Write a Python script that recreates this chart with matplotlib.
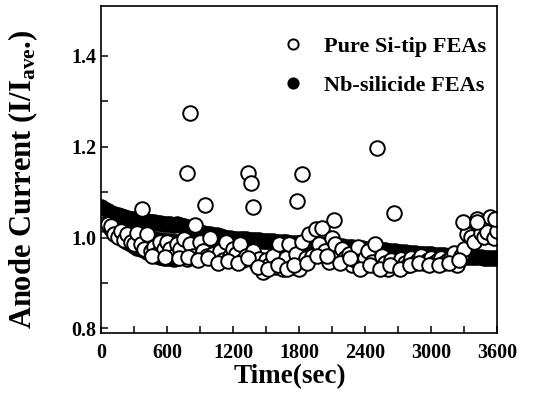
import numpy as np
import matplotlib
matplotlib.use('Agg')
import matplotlib.pyplot as plt

plt.rcParams['font.family'] = ['Liberation Serif', 'DejaVu Serif']
plt.rcParams['font.weight'] = 'bold'
plt.rcParams['mathtext.fontset'] = 'custom'
plt.rcParams['mathtext.rm'] = 'Liberation Serif:bold'
plt.rcParams['mathtext.it'] = 'Liberation Serif:bold'
plt.rcParams['mathtext.bf'] = 'Liberation Serif:bold'

### Nb-silicide FEAs (filled) ###
nb_t = list(range(0, 3601, 30))
nb_v = [1.068, 1.062, 1.058, 1.055, 1.052, 1.05, 1.047, 1.045, 1.043, 1.042, 1.04,
        1.039, 1.038, 1.037, 1.036, 1.035, 1.034, 1.033, 1.032, 1.031, 1.03,
        1.03, 1.028, 1.03, 1.027, 1.025, 1.024, 1.022, 1.02, 1.015, 1.012,
        1.01, 1.009, 1.008, 1.006, 1.005, 1.004, 1.002, 1.0, 0.999, 0.998,
        0.997, 0.997, 0.996, 0.996, 0.995, 0.995, 0.994, 0.994, 0.993, 0.993,
        0.992, 0.992, 0.991, 0.991, 0.99, 0.99, 0.989, 0.989, 0.988, 0.988,
        0.987, 0.987, 0.986, 0.986, 0.985, 0.985, 0.984, 0.984, 0.983, 0.983,
        0.982, 0.982, 0.981, 0.98, 0.98, 0.979, 0.978, 0.977, 0.977, 0.976,
        0.975, 0.974, 0.974, 0.973, 0.972, 0.972, 0.971, 0.97, 0.97, 0.969,
        0.968, 0.968, 0.967, 0.966, 0.966, 0.965, 0.964, 0.964, 0.963, 0.963,
        0.962, 0.962, 0.961, 0.961, 0.96, 0.96, 0.96, 0.959, 0.959, 0.958,
        0.958, 0.958, 0.957, 0.957, 0.957, 0.956, 0.956, 0.956, 0.956, 0.955]

nb_mid_t = list(range(120, 901, 30))
nb_mid_v = [1.03, 1.027, 1.024, 1.02, 1.017, 1.013, 1.01, 1.008, 1.005, 1.003,
            1.0, 0.998, 0.996, 0.995, 0.994, 0.993, 0.992, 0.992, 0.991, 0.99,
            0.99, 0.99, 0.99, 0.99, 0.99, 0.99, 0.99]

nb_low_t = list(range(30, 1201, 30))
nb_low_v = [1.04, 1.03, 1.02, 1.01, 1.005, 1.0, 0.995, 0.99, 0.985, 0.982,
            0.978, 0.975, 0.972, 0.968, 0.965, 0.962, 0.96, 0.958, 0.956, 0.955,
            0.955, 0.954, 0.955, 0.958, 0.96, 0.962, 0.965, 0.968, 0.97, 0.972,
            0.974, 0.975, 0.976, 0.977, 0.978, 0.978, 0.979, 0.98, 0.98, 0.981]

### Pure Si-tip FEAs (open) ###
si_t = list(range(0, 3601, 30))
si_v = [1.035, 1.03, 1.03, 1.025, 1.008, 1.002, 1.015, 0.995, 1.007, 0.99, 0.987,
        1.01, 0.985, 0.975, 1.009, 0.97, 0.98, 0.965, 0.99, 0.975, 0.991,
        0.975, 0.96, 0.985, 0.975, 0.998, 0.952, 0.985, 0.96, 0.954, 0.99,
        0.97, 0.96, 1.0, 0.965, 0.955, 0.97, 0.95, 0.99, 0.96, 0.975,
        0.965, 0.985, 0.95, 0.96, 0.955, 0.97, 0.945, 0.952, 0.925, 0.95,
        0.94, 0.96, 0.935, 0.987, 0.93, 0.955, 0.987, 0.936, 0.965, 0.93,
        0.99, 0.955, 1.007, 0.96, 1.018, 0.985, 1.022, 0.97, 0.947, 1.0,
        0.985, 0.96, 0.975, 0.955, 0.965, 0.94, 0.95, 0.98, 0.936, 0.955,
        0.97, 0.947, 0.985, 0.935, 0.96, 0.945, 0.93, 0.95, 0.94, 0.935,
        0.952, 0.945, 0.94, 0.955, 0.945, 0.95, 0.96, 0.945, 0.95, 0.955,
        0.945, 0.95, 0.955, 0.945, 0.95, 0.955, 0.967, 0.94, 0.96, 0.975,
        1.007, 1.002, 0.99, 1.04, 1.01, 1.002, 1.013, 1.046, 1.0, 1.015]

si_low_t = [465, 585, 705, 795, 885, 975, 1065, 1155, 1245, 1335, 1425, 1515,
            1605, 1695, 1755, 1875, 1965, 2055, 2175, 2265, 2355, 2445, 2535,
            2625, 2715, 2805, 2895, 2985, 3075, 3165, 3255]
si_low_v = [0.96, 0.958, 0.955, 0.958, 0.95, 0.955, 0.945, 0.948, 0.945, 0.955,
            0.935, 0.93, 0.94, 0.93, 0.94, 0.945, 0.96, 0.96, 0.945, 0.955,
            0.93, 0.94, 0.93, 0.94, 0.93, 0.94, 0.945, 0.94, 0.94, 0.945, 0.95]

si_hi_t = [376, 782, 813, 850, 941, 1339, 1360, 1378, 1782, 1827, 2118, 2509,
           2662, 3287, 3420, 3585]
si_hi_v = [1.064, 1.142, 1.275, 1.028, 1.072, 1.142, 1.12, 1.068, 1.08, 1.14,
           1.038, 1.198, 1.055, 1.035, 1.035, 1.04]

fig = plt.figure(figsize=(5.33, 3.94), dpi=100)
ax = fig.add_axes([101/533, 1 - 333/394, 396/533, 327/394])

ms = 10.5
mew = 1.4
filled = dict(marker='o', linestyle='none', ms=ms, mfc='black', mec='black', mew=mew)
hollow = dict(marker='o', linestyle='none', ms=ms, mfc='white', mec='black', mew=mew)

h_nb, = ax.plot(nb_t, nb_v, label='Nb-silicide FEAs', **filled)
ax.plot(nb_mid_t, nb_mid_v, **filled)
ax.plot(nb_low_t, nb_low_v, **filled)
h_si, = ax.plot(si_t, si_v, label='Pure Si-tip FEAs', **hollow)
ax.plot(si_low_t, si_low_v, **hollow)
ax.plot(si_hi_t, si_hi_v, **hollow)

ax.set_xlim(0, 3600)
ax.set_ylim(0.79, 1.51)
ax.set_xticks(range(0, 3601, 600))
ax.set_xticks(range(0, 3601, 300), minor=True)
ax.set_yticks([0.8, 1.0, 1.2, 1.4])
ax.set_yticks([0.9, 1.1, 1.3], minor=True)
ax.set_yticklabels(['0.8', '1.0', '1.2', '1.4'])
ax.tick_params(which='both', direction='in', length=5, width=1.1,
               top=False, right=False, labelsize=14.5)
ax.tick_params(axis='x', pad=7)
for s in ax.spines.values():
    s.set_linewidth(1.2)

ax.set_xlabel('Time(sec)', fontsize=19.5, fontweight='bold')
ax.xaxis.set_label_coords(0.477, -0.095)
ax.set_ylabel(r'Anode Current (I/I$_{\rm ave}$.)', fontsize=22,
              fontweight='bold')
ax.yaxis.set_label_coords(-0.155, 0.47)

ax.legend(handles=[h_si, h_nb], loc='upper left', bbox_to_anchor=(0.435, 0.935),
          frameon=False, fontsize=16, markerscale=0.7, handlelength=1.0,
          handletextpad=0.9, labelspacing=0.85, borderaxespad=0)

plt.savefig('out.png', dpi=100)
plt.close()
